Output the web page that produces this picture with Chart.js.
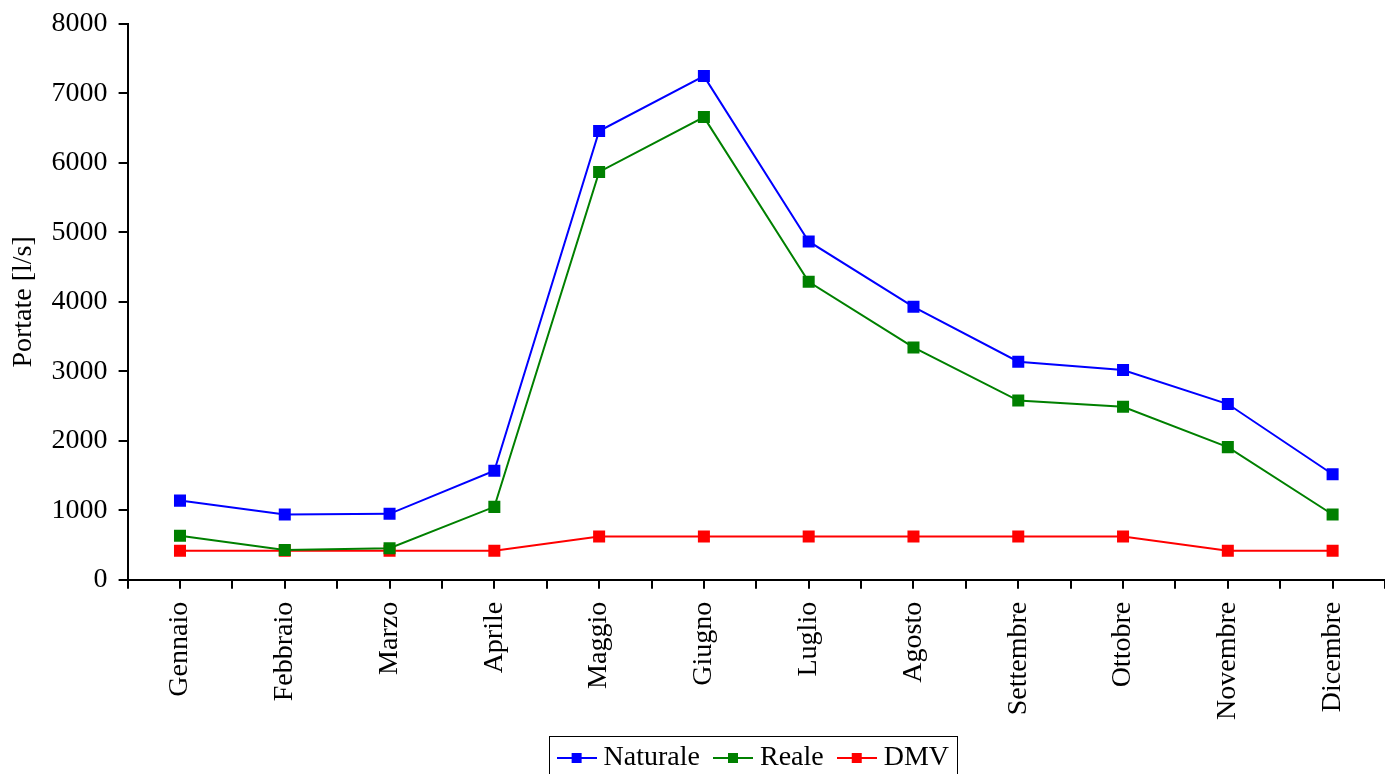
<!DOCTYPE html>
<html>
<head>
<meta charset="utf-8">
<script src="https://cdn.jsdelivr.net/npm/chart.js@4"></script>
<style>
  html, body { margin: 0; padding: 0; background: #fff; overflow: hidden; }
  #wrap { width: 1385px; height: 782px; }
</style>
</head>
<body>
<div id="wrap"><canvas id="myChart" width="1385" height="782"></canvas></div>
<script>
// mesi e portate medie mensili [l/s]
const mesi = ["Gennaio", "Febbraio", "Marzo", "Aprile", "Maggio", "Giugno",
  "Luglio", "Agosto", "Settembre", "Ottobre", "Novembre", "Dicembre"];
const naturale = [1140, 940, 950, 1570, 6460, 7250, 4870, 3930, 3140, 3020, 2530, 1520];
const reale = [635, 430, 455, 1050, 5870, 6660, 4290, 3345, 2580, 2490, 1910, 940];
const dmv = [420, 420, 420, 420, 625, 625, 625, 625, 625, 625, 420, 420];
const yTicks = [0, 1000, 2000, 3000, 4000, 5000, 6000, 7000, 8000];

const fontFamily = "'Liberation Serif', 'Times New Roman', serif";
const fontSize = 28;

// simbolo legenda: linea con quadratino
function legendSymbol(color) {
  const c = document.createElement("canvas");
  c.width = 40;
  c.height = 12;
  const ctx = c.getContext("2d");
  ctx.strokeStyle = color;
  ctx.lineWidth = 2;
  ctx.beginPath();
  ctx.moveTo(0, 6);
  ctx.lineTo(40, 6);
  ctx.stroke();
  ctx.fillStyle = color;
  ctx.fillRect(15, 1, 10, 10);
  return c;
}

function serie(label, values, color) {
  return {
    label: label,
    data: values.map((v, i) => ({ x: i, y: v })),
    borderColor: color,
    backgroundColor: color,
    borderWidth: 2,
    pointStyle: "rect",
    pointRadius: 8.5,
    pointBorderWidth: 0,
    pointHoverRadius: 8.5,
    legendSymbol: legendSymbol(color),
  };
}

// bordo attorno alla legenda
const legendBorder = {
  id: "legendBorder",
  afterDraw(chart) {
    const boxes = chart.legend.legendHitBoxes;
    if (!boxes || !boxes.length) return;
    const left = Math.min(...boxes.map((b) => b.left)) - 15;
    const right = Math.max(...boxes.map((b) => b.left + b.width)) + 8;
    const top = boxes[0].top + boxes[0].height / 2 - 22;
    const ctx = chart.ctx;
    ctx.save();
    ctx.strokeStyle = "#000";
    ctx.lineWidth = 1;
    ctx.strokeRect(Math.round(left) + 0.5, Math.round(top) + 0.5, Math.round(right - left), 80);
    ctx.restore();
  },
};

const config = {
  type: "line",
  data: {
    datasets: [
      serie("Naturale", naturale, "#0000ff"),
      serie("Reale", reale, "#008000"),
      serie("DMV", dmv, "#ff0000"),
    ],
  },
  options: {
    responsive: false,
    animation: false,
    layout: { autoPadding: false, padding: { left: 3, right: 0, top: 0, bottom: 0 } },
    plugins: {
      tooltip: { enabled: false },
      legend: {
        position: "bottom",
        fullSize: false,
        labels: {
          usePointStyle: true,
          pointStyleWidth: 26,
          padding: 20,
          color: "#000",
          font: { family: fontFamily, size: fontSize },
          generateLabels(chart) {
            return chart.data.datasets.map((ds, i) => ({
              text: ds.label,
              pointStyle: ds.legendSymbol,
              fillStyle: ds.borderColor,
              strokeStyle: ds.borderColor,
              lineWidth: 0,
              fontColor: "#000",
              datasetIndex: i,
              hidden: false,
            }));
          },
        },
      },
    },
    scales: {
      x: {
        type: "linear",
        min: -0.5,
        max: 11.5,
        afterFit(axis) {
          axis.paddingRight = 0;
          axis.height -= 9;
        },
        border: { color: "#000", width: 2 },
        grid: { drawOnChartArea: false, drawTicks: true, tickLength: 9, color: "#000", lineWidth: 2 },
        ticks: {
          stepSize: 0.5,
          autoSkip: false,
          minRotation: 90,
          maxRotation: 90,
          padding: 13,
          color: "#000",
          font: { family: fontFamily, size: fontSize },
          callback: (v) => (Number.isInteger(v) ? mesi[v] : ""),
        },
      },
      y: {
        min: 0,
        max: 8000,
        afterBuildTicks(axis) {
          axis.ticks = yTicks.map((v) => ({ value: v }));
        },
        afterFit(axis) {
          axis.paddingTop = 24;
        },
        border: { color: "#000", width: 2 },
        grid: { drawOnChartArea: false, drawTicks: true, tickLength: 9, color: "#000", lineWidth: 2 },
        title: {
          display: true,
          text: "Portate [l/s]",
          color: "#000",
          font: { family: fontFamily, size: fontSize },
          padding: { top: 4, bottom: 0 },
        },
        ticks: {
          padding: 11,
          color: "#000",
          font: { family: fontFamily, size: fontSize },
          callback: (v) => v,
        },
      },
    },
  },
  plugins: [legendBorder],
};

const ctx = document.getElementById("myChart");
const myChart = new Chart(ctx, config);
</script>
</body>
</html>
